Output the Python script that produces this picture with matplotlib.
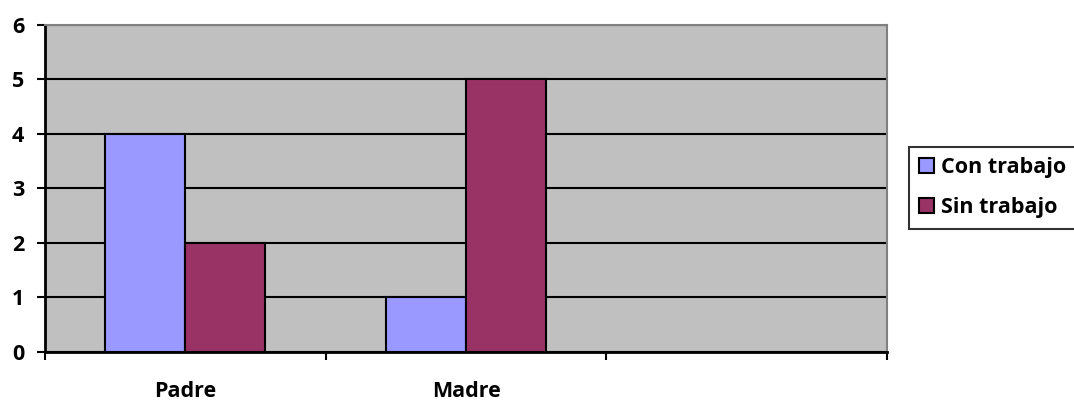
import numpy as np
import matplotlib.pyplot as plt

categories = ['Padre', 'Madre', '']
con_trabajo = [4, 1, 0]
sin_trabajo = [2, 5, 0]
series_names = ['Con trabajo', 'Sin trabajo']

plt.rcParams['font.family'] = ['Open Sans', 'DejaVu Sans']
plt.rcParams['font.weight'] = 'bold'

fig = plt.figure(figsize=(10.74, 4.03), dpi=100)
ax = fig.add_axes([0.0419, 0.1266, 0.784, 0.812])
ax.set_facecolor('#C0C0C0')

x = np.arange(len(categories))
w = 0.285
ax.bar(x[:2] - w / 2, con_trabajo[:2], w, color='#9999FF', edgecolor='black',
       linewidth=1.5, label=series_names[0], zorder=3)
ax.bar(x[:2] + w / 2, sin_trabajo[:2], w, color='#993366', edgecolor='black',
       linewidth=1.5, label=series_names[1], zorder=3)

ax.set_xlim(-0.5, 2.5)
ax.set_ylim(0, 6)
ax.set_yticks(range(7))
ax.yaxis.grid(True, color='black', linewidth=1.5, zorder=1)
ax.set_axisbelow(True)

ax.set_xticks(x)
ax.set_xticklabels(categories, fontsize=15.5, fontweight='bold')
ax.tick_params(axis='x', which='major', length=0, pad=21)
ax.set_xticks([-0.5, 0.5, 1.5, 2.5], minor=True)
ax.tick_params(axis='x', which='minor', length=6, width=1.5, color='black')
ax.tick_params(axis='y', length=6, width=1.5, labelsize=15.5, pad=9)
for lbl in ax.get_yticklabels():
    lbl.set_fontweight('bold')

for s in ['top', 'right']:
    ax.spines[s].set_color('#808080')
    ax.spines[s].set_linewidth(1.5)
for s in ['left', 'bottom']:
    ax.spines[s].set_color('black')
    ax.spines[s].set_linewidth(2)

leg = fig.legend(loc='upper left', bbox_to_anchor=(0.846, 0.636), fontsize=15.5,
                 frameon=True, fancybox=False, edgecolor='black',
                 handlelength=0.7, handleheight=0.7, handletextpad=0.3,
                 borderpad=0.5, labelspacing=0.85, borderaxespad=0)
leg.get_frame().set_linewidth(1.5)
for t in leg.get_texts():
    t.set_fontweight('bold')

fig.savefig('out.png', dpi=100)
